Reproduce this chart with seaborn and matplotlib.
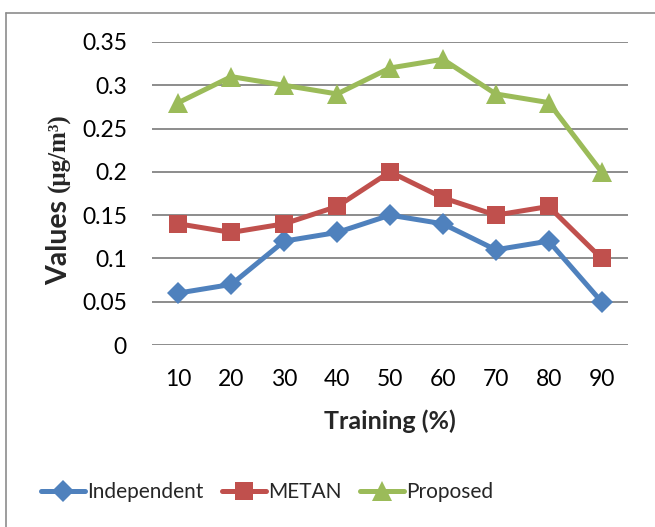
import pandas as pd
import matplotlib.pyplot as plt
import seaborn as sns
from matplotlib.lines import Line2D

# chart values
training = [10, 20, 30, 40, 50, 60, 70, 80, 90]
independent = [0.06, 0.07, 0.12, 0.13, 0.15, 0.14, 0.11, 0.12, 0.05]
metan = [0.14, 0.13, 0.14, 0.16, 0.20, 0.17, 0.15, 0.16, 0.10]
proposed = [0.28, 0.31, 0.30, 0.29, 0.32, 0.33, 0.29, 0.28, 0.20]
y_ticks = [0, 0.05, 0.1, 0.15, 0.2, 0.25, 0.3, 0.35]
y_tick_labels = ['0', '0.05', '0.1', '0.15', '0.2', '0.25', '0.3', '0.35']

series_names = ['Independent', 'METAN', 'Proposed']
colors = {'Independent': '#4F81BD', 'METAN': '#C0504D', 'Proposed': '#9BBB59'}
markers = {'Independent': 'D', 'METAN': 's', 'Proposed': '^'}
marker_sizes = {'Independent': 11, 'METAN': 13, 'Proposed': 14}

# long table for seaborn
df = pd.concat([
    pd.DataFrame({'Training': training, 'Value': vals, 'Series': name})
    for name, vals in zip(series_names, [independent, metan, proposed])
], ignore_index=True)

sns.set_style('white')
plt.rcParams['font.family'] = ['Lato', 'DejaVu Sans']

fig = plt.figure(figsize=(6.55, 5.27), dpi=100)
ax = fig.add_axes([152 / 655, 1 - 345 / 527, 476 / 655, 303 / 527])

for name in series_names:
    sns.lineplot(
        data=df[df['Series'] == name], x='Training', y='Value',
        color=colors[name], marker=markers[name], markersize=marker_sizes[name],
        markeredgewidth=0, linewidth=3.6, ax=ax, label=name, legend=False
    )

ax.set_xlim(5, 95)
ax.set_ylim(0, 0.35)
ax.set_xticks(training)
ax.set_xticklabels([str(t) for t in training])
ax.set_yticks(y_ticks)
ax.set_yticklabels(y_tick_labels)
ax.tick_params(axis='both', length=0, labelsize=16.5, colors='black')
ax.tick_params(axis='y', pad=18)
ax.tick_params(axis='x', pad=17)
ax.yaxis.grid(True, color='#8c8c8c', linewidth=1.4)
ax.xaxis.grid(False)
for s in ax.spines.values():
    s.set_visible(False)
ax.set_axisbelow(True)

ax.set_xlabel('')
ax.set_ylabel('')
fig.text(390 / 655, 1 - 421 / 527, 'Training (%)', ha='center', va='center',
         fontsize=18, fontweight='bold')

# y label: sans part + serif unit
fig.text(59 / 655, 1 - 285 / 527, 'Values', rotation=90, ha='center', va='bottom',
         fontsize=20.5, fontweight='bold')
fig.text(59 / 655, 1 - 113 / 527, '(μg/m³)', rotation=90, ha='center', va='top',
         fontsize=18, fontweight='bold', family=['Liberation Serif', 'DejaVu Serif'])

# legend
handles = [Line2D([], [], color=colors[n], marker=markers[n], markersize=marker_sizes[n],
                  markeredgewidth=0, linewidth=3.6) for n in series_names]
fig.legend(handles, series_names, loc='center', bbox_to_anchor=(267 / 655, 1 - 492 / 527),
           ncol=3, frameon=False, fontsize=15, handlelength=2.1, handletextpad=0.1,
           columnspacing=0.9)

# chart frame (left and top edges visible)
fig.add_artist(Line2D([6 / 655, 6 / 655], [0, 1 - 13 / 527], transform=fig.transFigure,
                      color='#8c8c8c', linewidth=1.2))
fig.add_artist(Line2D([6 / 655, 1], [1 - 13 / 527, 1 - 13 / 527], transform=fig.transFigure,
                      color='#8c8c8c', linewidth=1.2))

fig.savefig('out.png', dpi=100)
